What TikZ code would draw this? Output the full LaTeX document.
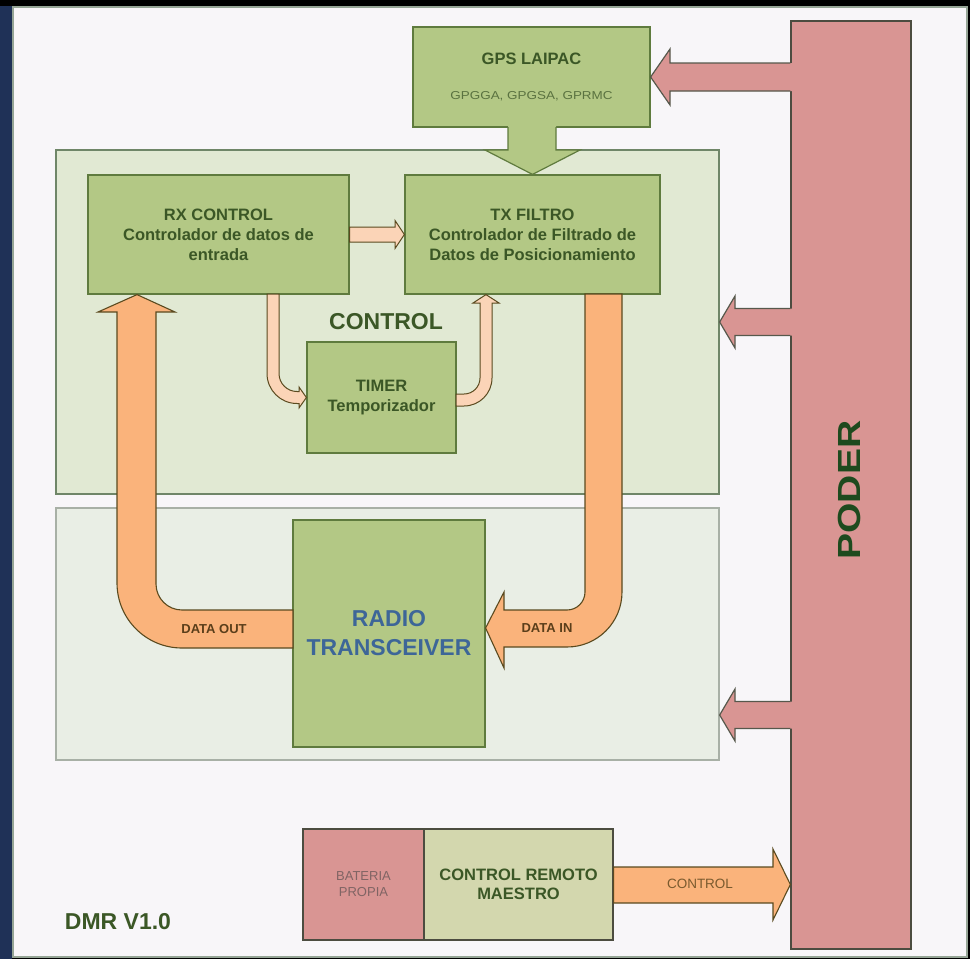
\documentclass[tikz,border=0pt]{standalone}
\usepackage{fontspec}
\setmainfont{Liberation Sans}
\usetikzlibrary{calc}
\definecolor{bgpanel}{HTML}{F8F6F9}
\definecolor{panelline}{HTML}{96A596}
\definecolor{ctrlfill}{HTML}{E1E9D3}
\definecolor{ctrlline}{HTML}{6F8668}
\definecolor{radfill}{HTML}{E9EEE5}
\definecolor{radline}{HTML}{A8B0A6}
\definecolor{boxgreen}{HTML}{B3C885}
\definecolor{boxline}{HTML}{5F7B3E}
\definecolor{txtgreen}{HTML}{3B5726}
\definecolor{smalltxt}{HTML}{5A7240}
\definecolor{pinkfill}{HTML}{D99593}
\definecolor{pinkline}{HTML}{56584C}
\definecolor{orangefill}{HTML}{FAB37B}
\definecolor{orangeline}{HTML}{5A4A1F}
\definecolor{peachfill}{HTML}{FBD4B7}
\definecolor{olivefill}{HTML}{D3D7AE}
\definecolor{darkline}{HTML}{4C4C40}
\definecolor{radiotxt}{HTML}{3D6698}
\definecolor{podertxt}{HTML}{1E4A1E}
\definecolor{navyside}{HTML}{1F3157}
\definecolor{battxt}{HTML}{806464}
\definecolor{ctltxt}{HTML}{7A5A2E}
\definecolor{datatxt}{HTML}{5A3E1A}
\tikzset{
  container/.style={line width=1.3pt, inner sep=0pt},
  gbox/.style={draw=boxline, fill=boxgreen, line width=1.2pt, inner sep=0pt, align=center,
    text=txtgreen, font=\fontsize{16.5}{20}\selectfont\bfseries},
  fatorange/.style={fill=orangefill, draw=orangeline, line width=1.1pt, line join=miter},
  thinpeach/.style={fill=peachfill, draw=orangeline, line width=1pt, line join=miter},
  pinkarrowfill/.style={fill=pinkfill},
  pinkarrowline/.style={draw=pinkline, line width=1.2pt, line join=miter},
  greenarrowfill/.style={fill=boxgreen},
  greenarrowline/.style={draw=boxline, line width=1.2pt, line join=miter},
  lbl/.style={inner sep=0pt, align=center}
}
\begin{document}
\begin{tikzpicture}[x=1pt,y=-1pt]
\useasboundingbox (0,0) rectangle (970,959);
\fill[black] (0,0) rectangle (970,959);
\fill[navyside] (0,6) rectangle (12,959);
% frame
\node[draw=panelline, fill=bgpanel, line width=1.5pt, minimum width=954pt, minimum height=950pt, inner sep=0pt] (panel) at (490,482) {};
% containers
\node[container, draw=ctrlline, fill=ctrlfill, minimum width=663pt, minimum height=344pt] (ctrl) at (387.5,322) {};
\node[container, draw=radline, fill=radfill, minimum width=663pt, minimum height=252pt] (radioc) at (387.5,634) {};
% boxes
\node[gbox, minimum width=237pt, minimum height=100pt] (gps) at (531.5,77)
  {GPS LAIPAC\\[15pt]{\fontsize{11.5}{12}\selectfont\mdseries\color{smalltxt}\scalebox{1.17}[1]{GPGGA, GPGSA, GPRMC}}};
\node[gbox, minimum width=261pt, minimum height=119pt] (rx) at (218.5,234.5)
  {RX CONTROL\\Controlador de datos de\\entrada};
\node[gbox, minimum width=255pt, minimum height=119pt] (tx) at (532.5,234.5)
  {TX FILTRO\\Controlador de Filtrado de\\Datos de Posicionamiento};
\node[gbox, minimum width=149pt, minimum height=111pt] (timer) at (381.5,397.5)
  {TIMER\\Temporizador};
\node[gbox, minimum width=192pt, minimum height=227pt, text=radiotxt, font=\fontsize{23}{29}\selectfont\bfseries] (radio) at (389,633.5)
  {RADIO\\TRANSCEIVER};
\node[draw=darkline, fill=pinkfill, line width=1.3pt, minimum width=120pt, minimum height=928pt, inner sep=0pt] (poder) at (851,485) {};
\node[draw=darkline, fill=pinkfill, line width=1.2pt, minimum width=121pt, minimum height=111pt, inner sep=0pt, align=center,
  text=battxt, font=\fontsize{13}{16}\selectfont] (bat) at (363.5,884.5) {BATERIA\\PROPIA};
\node[draw=darkline, fill=olivefill, line width=1.2pt, minimum width=189pt, minimum height=111pt, inner sep=0pt, align=center,
  text=txtgreen, font=\fontsize{16.5}{19}\selectfont\bfseries] (crm) at (518.5,884.5) {CONTROL REMOTO\\MAESTRO};
% labels
\node[lbl, text=txtgreen, font=\fontsize{23}{23}\selectfont\bfseries] (ctrllbl) at (386,322) {CONTROL};
\node[lbl, text=podertxt, font=\fontsize{32}{32}\selectfont\bfseries, rotate=90] (poderlbl) at (849,490) {\scalebox{1.22}[1]{PODER}};
\node[lbl, text=txtgreen, font=\fontsize{23}{23}\selectfont\bfseries] (dmr) at (118,922) {DMR V1.0};
% GPS -> TX
\fill[greenarrowfill] (508,125.5) -- (508,150) -- (485,150) -- (tx.north) -- (580,150) -- (556,150) -- (556,125.5) -- cycle;
\draw[greenarrowline] (508,127) -- (508,150) -- (485,150) -- (tx.north) -- (580,150) -- (556,150) -- (556,127);
% power arrows
\fill[pinkarrowfill] (792.5,63) -- (670,63) -- (670,49) -- (gps.east) -- (670,105) -- (670,91) -- (792.5,91) -- cycle;
\draw[pinkarrowline] (poder.west |- 0,63) -- (670,63) -- (670,49) -- (gps.east) -- (670,105) -- (670,91) -- (poder.west |- 0,91);
\fill[pinkarrowfill] (792.5,308.5) -- (735,308.5) -- (735,296) -- (ctrl.east) -- (735,348) -- (735,335.5) -- (792.5,335.5) -- cycle;
\draw[pinkarrowline] (poder.west |- 0,308.5) -- (735,308.5) -- (735,296) -- (ctrl.east) -- (735,348) -- (735,335.5) -- (poder.west |- 0,335.5);
\coordinate (p3) at (radioc.east |- 0,715);
\fill[pinkarrowfill] (792.5,701.5) -- (735,701.5) -- (735,689) -- (p3) -- (735,741) -- (735,728.5) -- (792.5,728.5) -- cycle;
\draw[pinkarrowline] (poder.west |- 0,701.5) -- (735,701.5) -- (735,689) -- (p3) -- (735,741) -- (735,728.5) -- (poder.west |- 0,728.5);
% RX -> TX
\draw[thinpeach] (rx.east |- 0,227) -- (395,227) -- (395,220.5) -- (tx.west) -- (395,248.5) -- (395,242) -- (rx.east |- 0,242) -- cycle;
% RX -> TIMER
\draw[thinpeach] (267,294) -- (267,373.5) arc[start angle=180, end angle=90, radius=30]
  -- (299,403.5) -- (299,408) -- (timer.west) -- (299,387) -- (299,391.5) -- (297,391.5)
  arc[start angle=90, end angle=180, radius=18] -- (279,294) -- cycle;
% TIMER -> TX
\draw[thinpeach] (456,406) -- (464,406) arc[start angle=90, end angle=0, radius=28]
  -- (492,303) -- (499,303) -- (tx.south -| 486,0) -- (473,303) -- (480,303) -- (480,378)
  arc[start angle=0, end angle=90, radius=16] -- (456,394) -- cycle;
% DATA OUT
\draw[fatorange] (293,610) -- (182,610) arc[start angle=90, end angle=180, radius=26]
  -- (156,312) -- (175,312) -- (rx.south -| 137,0) -- (98,312) -- (117,312) -- (117,583)
  arc[start angle=180, end angle=90, radius=65] -- (293,648) -- cycle;
% DATA IN
\draw[fatorange] (585,294) -- (622,294) -- (622,592) arc[start angle=0, end angle=90, radius=55]
  -- (504,647) -- (504,668) -- (radio.east |- 0,628) -- (504,592) -- (504,610) -- (567,610)
  arc[start angle=90, end angle=0, radius=18] -- cycle;
% CONTROL -> PODER
\draw[fatorange] (crm.east |- 0,867) -- (773,867) -- (773,849) -- (poder.west |- crm.east) -- (773,920) -- (773,903) -- (crm.east |- 0,903) -- cycle;
% arrow labels
\node[lbl, text=datatxt, font=\fontsize{13}{13}\selectfont\bfseries] (doutlbl) at (214,629) {DATA OUT};
\node[lbl, text=datatxt, font=\fontsize{13}{13}\selectfont\bfseries] (dinlbl) at (547,628) {DATA IN};
\node[lbl, text=ctltxt, font=\fontsize{13.5}{13.5}\selectfont] (ctllbl) at (700,884) {CONTROL};
\end{tikzpicture}
\end{document}
